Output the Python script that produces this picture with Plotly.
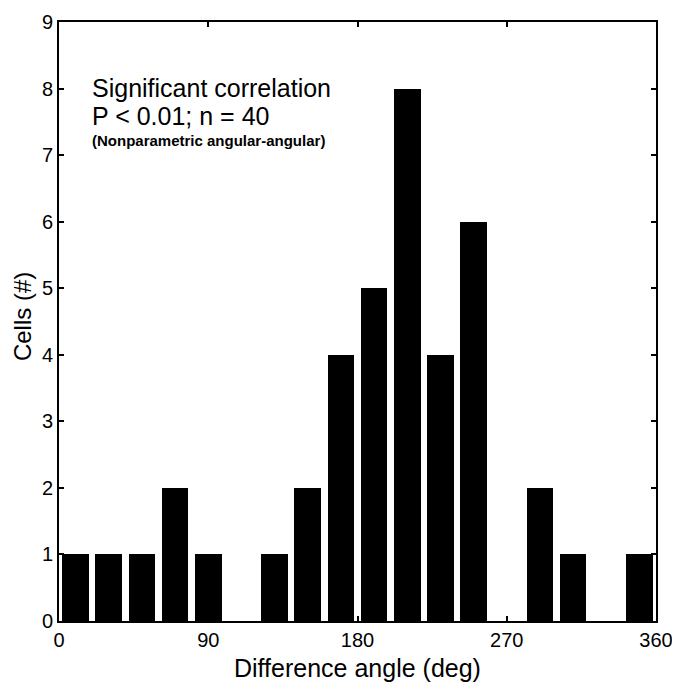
import plotly.graph_objects as go

bin_centers = [10, 30, 50, 70, 90, 110, 130, 150, 170, 190, 210, 230, 250, 270, 290, 310, 330, 350]
cell_counts = [1, 1, 1, 2, 1, 0, 1, 2, 4, 5, 8, 4, 6, 0, 2, 1, 0, 1]
x_ticks = [0, 90, 180, 270, 360]
y_ticks = list(range(0, 10))

FONT = "Liberation Sans, Arial, sans-serif"

fig = go.Figure(go.Bar(x=bin_centers, y=cell_counts, width=16,
                       marker=dict(color="black", line=dict(width=0))))

axis_common = dict(showline=True, linecolor="black", linewidth=2, mirror="allticks",
                   ticks="inside", ticklen=5, tickwidth=2, tickcolor="black",
                   showgrid=False, zeroline=False, automargin=False,
                   tickfont=dict(family=FONT, size=20, color="black"))

fig.update_xaxes(range=[0, 360], tickvals=x_ticks, **axis_common)
fig.update_yaxes(range=[0, 9], tickvals=y_ticks, **axis_common)

fig.add_annotation(xref="paper", yref="paper", x=0.5, y=-0.0785, xanchor="center", yanchor="middle",
                   text="Difference angle (deg)", showarrow=False,
                   font=dict(family=FONT, size=25, color="black"))
fig.add_annotation(xref="paper", yref="paper", x=-0.062, y=0.509, xanchor="center", yanchor="middle",
                   text="Cells (#)", showarrow=False, textangle=-90, borderpad=0,
                   font=dict(family=FONT, size=24, color="black"))

fig.add_annotation(xref="paper", yref="paper", x=0.052, y=0.889, xanchor="left", yanchor="middle",
                   text="Significant correlation", showarrow=False,
                   font=dict(family=FONT, size=25, color="black"))
fig.add_annotation(xref="paper", yref="paper", x=0.052, y=0.843, xanchor="left", yanchor="middle",
                   text="P < 0.01; n = 40", showarrow=False,
                   font=dict(family=FONT, size=25, color="black"))
fig.add_annotation(xref="paper", yref="paper", x=0.052, y=0.803, xanchor="left", yanchor="middle",
                   text="<b>(Nonparametric angular-angular)</b>", showarrow=False,
                   font=dict(family=FONT, size=15, color="black"))

fig.update_layout(width=680, height=682, margin=dict(l=51, r=32, t=14, b=69),
                  plot_bgcolor="white", paper_bgcolor="white", showlegend=False,
                  bargap=0)

fig.write_html("out.html")
